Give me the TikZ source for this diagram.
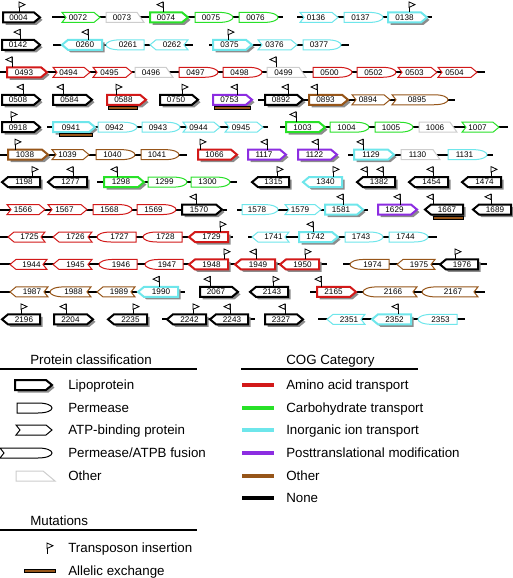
\documentclass[tikz,border=0pt]{standalone}
\usepackage{fontspec}
\setmainfont{Liberation Sans}
\usepackage{tikz}
\usetikzlibrary{calc}

\definecolor{cred}{RGB}{210,25,25}
\definecolor{cgreen}{RGB}{40,225,40}
\definecolor{ccyan}{RGB}{110,230,235}
\definecolor{cpurple}{RGB}{140,45,225}
\definecolor{cbrown}{RGB}{150,85,25}
\definecolor{cgray}{RGB}{205,205,205}

\tikzset{
  backbone/.style={line width=1.5pt},
  lipobox/.style={draw=#1,line width=1.5pt,fill=white},
  thinbox/.style={draw=#1,line width=0.75pt,fill=white},
  gshadow/.style={fill=black!45},
  glabel/.style={font=\fontsize{6.1}{7}\selectfont,inner sep=0pt},
  flagline/.style={line width=0.6pt},
  allelbar/.style={fill=cbrown,draw=black,line width=0.4pt},
  legtext/.style={font=\fontsize{10}{12}\selectfont,anchor=base west,inner sep=0pt},
  cogbar/.style={line width=3.4pt},
  rulebar/.style={line width=1pt}
}

% gene outlines, pointing right, half width #1
\newcommand{\pthlipo}[1]{(-#1,-5) -- (#1-6,-5) -- (#1,0) -- (#1-6,5) -- (-#1,5) -- cycle}
\newcommand{\pthatp}[1]{(-#1,-5) -- (#1-6,-5) -- (#1,0) -- (#1-6,5) -- (-#1,5) -- (-#1+4,0) -- cycle}
\newcommand{\pthperm}[1]{(-#1,-5) -- (#1-14,-5) .. controls (#1-5,-5) and (#1,-2.5) .. (#1,0) .. controls (#1,2.5) and (#1-5,5) .. (#1-14,5) -- (-#1,5) -- cycle}
\newcommand{\pthfus}[1]{(-#1,-5) -- (#1-14,-5) .. controls (#1-5,-5) and (#1,-2.5) .. (#1,0) .. controls (#1,2.5) and (#1-5,5) .. (#1-14,5) -- (-#1,5) -- (-#1+4,0) -- cycle}
\newcommand{\pthoth}[1]{(-#1,-5) -- (#1-7,-5) -- (#1,5) -- (-#1,5) -- cycle}
\def\kLipo{lipo}

% kind, dir, x1, x2, y, colour
\newcommand{\gbody}[6]{%
  \pgfmathsetmacro\gC{(#3+#4)/2}\pgfmathsetmacro\gW{(#4-#3)/2}%
  \edef\gK{#1}%
  \expandafter\let\expandafter\gP\csname pth\gK\endcsname
  \ifx\gK\kLipo
    \fill[gshadow,shift={(\gC+2.5,#5+2.5)},xscale=#2] \gP{\gW};
    \draw[lipobox=#6,shift={(\gC,#5)},xscale=#2] \gP{\gW};
  \else
    \draw[thinbox=#6,shift={(\gC,#5)},xscale=#2] \gP{\gW};
  \fi}
\newcommand{\gene}[7]{\gbody{#1}{#2}{#3}{#4}{#5}{#6}\node[glabel] (g#7) at ({\gC-3*(#2)},#5) {#7};}
\newcommand{\flag}[3]{\draw[flagline] (#1,#2-5) -- (#1,#2-15.5);
  \filldraw[flagline,fill=white] (#1,#2-15.5) -- ({#1+6*(#3)},#2-12.75) -- (#1,#2-10) -- cycle;}
\newcommand{\allel}[3]{\draw[allelbar] (#1,#3+6.5) rectangle (#2,#3+9.5);}

\def\rowA{17.4}   \def\rowB{44.85}  \def\rowC{72.3}   \def\rowD{99.75}
\def\rowE{127.2}  \def\rowF{154.65} \def\rowG{182.1}  \def\rowH{209.55}
\def\rowI{237}    \def\rowJ{264.45} \def\rowK{291.9}  \def\rowL{319.35}

\begin{document}
\begin{tikzpicture}[x=0.75pt,y=-0.75pt]
\useasboundingbox (0,0) rectangle (513,578);

% row 1
\foreach \a/\b in {52/283,297/432} \draw[backbone] (\a,\rowA) -- (\b,\rowA);
\foreach \k/\d/\a/\b/\cl/\l in {lipo/1/3/40/black/0004,atp/1/62/100/cgreen/0072,oth/1/106/144/cgray/0073,
  lipo/1/150/188/cgreen/0074,perm/1/195/233/cgreen/0075,perm/1/239/278/cgreen/0076,
  atp/1/300/338/ccyan/0136,perm/1/344/383/ccyan/0137,lipo/1/388/427/ccyan/0138}
  {\gene{\k}{\d}{\a}{\b}{\rowA}{\cl}{\l}}
\foreach \x/\d in {19/1,163/-1,409/1} {\flag{\x}{\rowA}{\d}}

% row 2
\foreach \a/\b in {53/193,209/349} \draw[backbone] (\a,\rowB) -- (\b,\rowB);
\foreach \k/\d/\a/\b/\cl/\l in {lipo/1/2/40/black/0142,lipo/-1/62/102/ccyan/0260,perm/-1/106/144/ccyan/0261,
  atp/-1/150/188/ccyan/0262,lipo/1/213/252/ccyan/0375,atp/1/258/297/ccyan/0376,perm/1/303/341/ccyan/0377}
  {\gene{\k}{\d}{\a}{\b}{\rowB}{\cl}{\l}}
\foreach \x/\d in {20/-1,88/-1,228/1} {\flag{\x}{\rowB}{\d}}

% row 3
\draw[backbone] (0,\rowC) -- (485,\rowC);
\foreach \k/\d/\a/\b/\cl/\l in {lipo/1/7/47/cred/0493,atp/1/53/90/cred/0494,atp/1/93/132/cred/0495,
  oth/1/135/173/cgray/0496,perm/1/179/218/cred/0497,perm/1/223/262/cred/0498,oth/1/267/306/cgray/0499,
  perm/1/313/352/cred/0500,perm/1/357/396/cred/0502,atp/1/398/437/cred/0503,atp/1/438/477/cred/0504}
  {\gene{\k}{\d}{\a}{\b}{\rowC}{\cl}{\l}}
\foreach \x/\d in {12/-1,276/-1} {\flag{\x}{\rowC}{\d}}

% row 4
\draw[backbone] (258,\rowD) -- (455,\rowD);
\foreach \k/\d/\a/\b/\cl/\l in {lipo/1/2/40/black/0508,lipo/1/53/92/black/0584,lipo/1/107/146/cred/0588,
  lipo/1/160/198/black/0750,lipo/1/213/252/cpurple/0753,lipo/1/265/303/black/0892,
  lipo/1/309/348/cbrown/0893,atp/1/352/390/cbrown/0894,fus/1/392/448/cbrown/0895}
  {\gene{\k}{\d}{\a}{\b}{\rowD}{\cl}{\l}}
\foreach \x/\d in {23/-1,63/-1,116/1,182/1,237/-1,288/-1,317/-1} {\flag{\x}{\rowD}{\d}}
\allel{108}{137}{\rowD}
\allel{214}{250}{\rowD}

% row 5
\foreach \a/\b in {47/268,280/508} \draw[backbone] (\a,\rowE) -- (\b,\rowE);
\foreach \k/\d/\a/\b/\cl/\l in {lipo/1/2/40/black/0918,lipo/1/53/95/ccyan/0941,perm/1/98/137/ccyan/0942,
  perm/1/142/180/ccyan/0943,atp/1/183/220/ccyan/0944,atp/1/225/263/ccyan/0945,
  lipo/1/286/325/cgreen/1003,perm/1/330/369/cgreen/1004,perm/1/375/413/cgreen/1005,
  oth/1/419/457/cgray/1006,atp/1/462/499/cgreen/1007}
  {\gene{\k}{\d}{\a}{\b}{\rowE}{\cl}{\l}}
\foreach \x/\d in {11/1,296/-1} {\flag{\x}{\rowE}{\d}}
\allel{59}{92}{\rowE}

% row 6
\foreach \a/\b in {0/187,348/493} \draw[backbone] (\a,\rowF) -- (\b,\rowF);
\foreach \k/\d/\a/\b/\cl/\l in {lipo/1/8/48/cbrown/1038,atp/1/52/89/cbrown/1039,perm/1/96/135/cbrown/1040,
  perm/1/141/179/cbrown/1041,lipo/1/198/237/cred/1066,lipo/1/248/286/cpurple/1117,
  lipo/1/298/337/cpurple/1122,lipo/1/354/394/ccyan/1129,oth/1/401/440/cgray/1130,perm/1/448/487/ccyan/1131}
  {\gene{\k}{\d}{\a}{\b}{\rowF}{\cl}{\l}}
\foreach \x/\d in {15/1,200/1,267/-1,318/-1,363/-1} {\flag{\x}{\rowF}{\d}}

% row 7
\draw[backbone] (97,\rowG) -- (237,\rowG);
\foreach \k/\d/\a/\b/\cl/\l in {lipo/-1/2/40/black/1198,lipo/-1/48/87/black/1277,lipo/1/104/144/cgreen/1298,
  perm/1/148/187/cgreen/1299,perm/1/191/230/cgreen/1300,lipo/-1/252/289/black/1315,
  lipo/-1/303/342/ccyan/1340,lipo/-1/357/395/black/1382,lipo/-1/409/448/black/1454,lipo/-1/462/501/black/1474}
  {\gene{\k}{\d}{\a}{\b}{\rowG}{\cl}{\l}}
\foreach \x/\d in {32/1,73/-1,117/-1,277/1,333/1,367/-1,383/-1,433/-1,491/1} {\flag{\x}{\rowG}{\d}}

% row 8
\foreach \a/\b in {0/227,237/368} \draw[backbone] (\a,\rowH) -- (\b,\rowH);
\foreach \k/\d/\a/\b/\cl/\l in {atp/1/7/45/cred/1566,atp/1/48/87/cred/1567,perm/1/93/132/cred/1568,
  perm/1/137/176/cred/1569,lipo/1/182/222/black/1570,perm/1/242/278/ccyan/1578,atp/1/285/321/ccyan/1579,
  lipo/1/325/363/ccyan/1581,lipo/1/378/417/cpurple/1629,lipo/-1/425/463/black/1667,lipo/-1/473/511/black/1689}
  {\gene{\k}{\d}{\a}{\b}{\rowH}{\cl}{\l}}
\foreach \x/\d in {196/-1,343/-1,400/-1,433/-1,491/-1} {\flag{\x}{\rowH}{\d}}
\allel{433}{463}{\rowH}

% row 9
\foreach \a/\b in {0/233,248/437} \draw[backbone] (\a,\rowI) -- (\b,\rowI);
\foreach \k/\d/\a/\b/\cl/\l in {atp/-1/8/45/cred/1725,atp/-1/53/92/cred/1726,perm/-1/97/136/cred/1727,
  perm/-1/143/182/cred/1728,lipo/-1/189/228/cred/1729,atp/-1/252/289/ccyan/1741,
  lipo/1/299/338/ccyan/1742,perm/1/345/383/ccyan/1743,perm/1/389/428/ccyan/1744}
  {\gene{\k}{\d}{\a}{\b}{\rowI}{\cl}{\l}}
\foreach \x/\d in {220/1,313/-1} {\flag{\x}{\rowI}{\d}}

% row 10
\foreach \a/\b in {0/327,343/487} \draw[backbone] (\a,\rowJ) -- (\b,\rowJ);
\foreach \k/\d/\a/\b/\cl/\l in {atp/-1/10/47/cred/1944,atp/-1/53/92/cred/1945,perm/-1/99/137/cred/1946,
  perm/-1/145/183/cred/1947,lipo/-1/189/228/cred/1948,lipo/-1/235/275/cred/1949,lipo/-1/280/319/cred/1950,
  perm/-1/350/389/cbrown/1974,atp/-1/397/435/cbrown/1975,lipo/-1/440/478/black/1976}
  {\gene{\k}{\d}{\a}{\b}{\rowJ}{\cl}{\l}}
\foreach \x/\d in {224/1,256/-1,305/1,455/1} {\flag{\x}{\rowJ}{\d}}

% row 11
\foreach \a/\b in {0/185,310/485} \draw[backbone] (\a,\rowK) -- (\b,\rowK);
\foreach \k/\d/\a/\b/\cl/\l in {atp/-1/10/48/cbrown/1987,fus/-1/50/91/cbrown/1988,atp/-1/97/135/cbrown/1989,
  lipo/-1/138/178/ccyan/1990,lipo/1/200/238/black/2067,lipo/-1/250/288/black/2143,
  lipo/1/317/356/cred/2165,fus/-1/363/417/cbrown/2166,fus/-1/422/478/cbrown/2167}
  {\gene{\k}{\d}{\a}{\b}{\rowK}{\cl}{\l}}
\foreach \x/\d in {159/-1,210/-1,273/1,321/-1} {\flag{\x}{\rowK}{\d}}

% row 12
\foreach \a/\b in {162/255,318/465} \draw[backbone] (\a,\rowL) -- (\b,\rowL);
\foreach \k/\d/\a/\b/\cl/\l in {lipo/-1/2/40/black/2196,lipo/1/54/93/black/2204,lipo/-1/108/147/black/2235,
  lipo/-1/167/206/black/2242,lipo/-1/210/248/black/2243,lipo/1/265/303/black/2327,
  atp/-1/327/365/ccyan/2351,lipo/-1/372/411/ccyan/2352,perm/-1/418/457/ccyan/2353}
  {\gene{\k}{\d}{\a}{\b}{\rowL}{\cl}{\l}}
\foreach \x/\d in {21/1,66/-1,133/1,193/1,230/-1,285/-1,398/-1} {\flag{\x}{\rowL}{\d}}

% legend: protein classification
\node[legtext] (hdProt) at (30,364.5) {Protein classification};
\draw[rulebar] (0,369) -- (197,369);
\gbody{lipo}{1}{15}{52}{385}{black}
\gbody{perm}{1}{17}{52}{408}{black}
\gbody{atp}{1}{16}{52}{430}{black}
\gbody{fus}{1}{0}{52}{453}{black}
\draw[thinbox=cgray] (16,471) -- (43,471) -- (55,481) -- (16,481) -- cycle;
\foreach \y/\txt [count=\i] in {385/Lipoprotein,408/Permease,430/ATP-binding protein,453/{Permease/ATPB fusion},476/Other}
  {\node[legtext] (prot\i) at (68,\y+4.8) {\txt};}

% legend: mutations
\node[legtext] (hdMut) at (30,525.5) {Mutations};
\draw[rulebar] (0,530) -- (197,530);
\flag{47}{558.5}{1}
\node[legtext] (mutTn) at (68,552.8) {Transposon insertion};
\draw[allelbar] (24,569.5) rectangle (55,572.5);
\node[legtext] (mutAx) at (68,575.8) {Allelic exchange};

% legend: COG category
\node[legtext] (hdCog) at (286,364.5) {COG Category};
\draw[rulebar] (241,369) -- (418,369);
\foreach \y/\cl/\txt [count=\i] in {385/cred/Amino acid transport,408/cgreen/Carbohydrate transport,
  430/ccyan/Inorganic ion transport,453/cpurple/Posttranslational modification,476/cbrown/Other,498/black/None}
  {\draw[cogbar,\cl] (242,\y) -- (274,\y);
   \node[legtext] (cog\i) at (286,\y+4.8) {\txt};}
\end{tikzpicture}
\end{document}
